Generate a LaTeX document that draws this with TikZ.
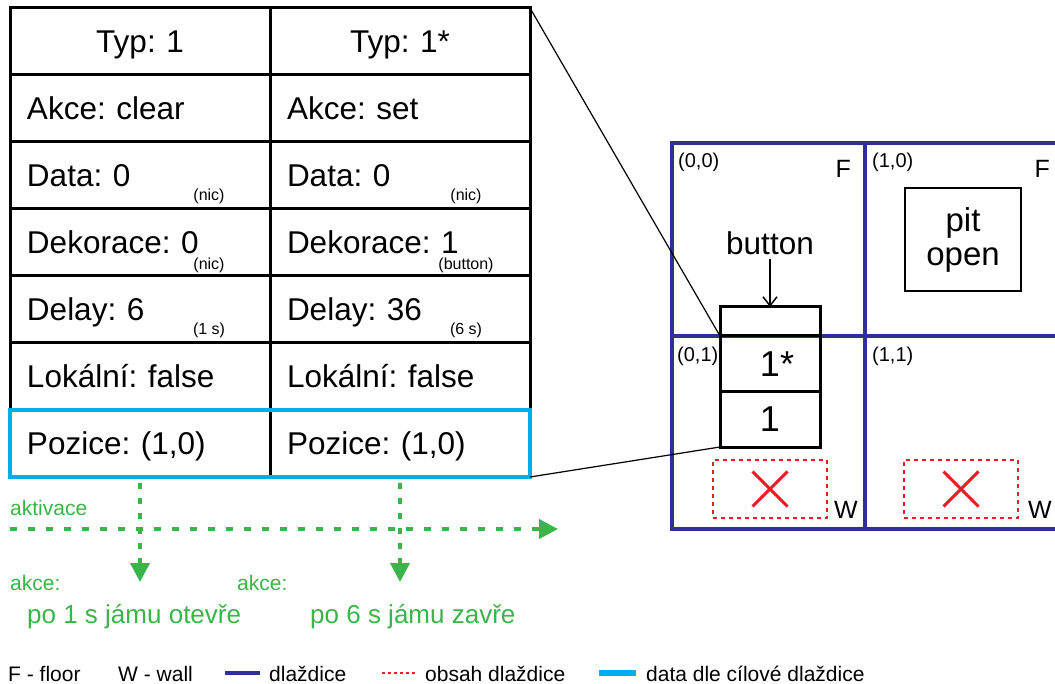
\documentclass[tikz,border=0pt]{standalone}
\usepackage{fontspec}
\setmainfont{Liberation Sans}
\usepackage{tikz}
\usetikzlibrary{positioning}
\usetikzlibrary{arrows.meta}
\usetikzlibrary{shapes.misc}

\definecolor{tilenavy}{RGB}{46,49,146}
\definecolor{datacyan}{RGB}{0,174,239}
\definecolor{contred}{RGB}{237,28,36}
\definecolor{actgreen}{RGB}{57,181,74}
\frenchspacing

\begin{document}
\begin{tikzpicture}[x=1pt,y=-1pt,on grid,node distance=67pt and 260pt,
   cell/.style={draw,line width=3pt,outer sep=0pt,inner sep=0pt,
     minimum width=260pt,minimum height=67pt,text width=226pt,align=left,
     text height=22.5pt,text depth=0pt,font=\fontsize{31.5}{34}\selectfont},
   head/.style={cell,align=center},
   note/.style={anchor=base,inner sep=0pt,font=\fontsize{16}{18}\selectfont},
   tile/.style={draw=tilenavy,line width=4pt,outer sep=0pt,inner sep=0pt,minimum size=193pt},
   tilecoord/.style={inner sep=0pt,font=\fontsize{20}{22}\selectfont},
   kind/.style={inner sep=0pt,font=\fontsize{25}{27}\selectfont},
   slot/.style={draw,line width=3pt,outer sep=0pt,inner sep=0pt,minimum width=100pt,
     font=\fontsize{36}{38}\selectfont},
   content/.style={draw=contred,line width=1.5pt,dash pattern=on 4pt off 4pt,
     minimum width=114pt,minimum height=58pt},
   nope/.style={cross out,draw=contred,line width=3pt,minimum size=32pt,inner sep=0pt},
   act/.style={draw=actgreen,line width=4pt,-{Triangle[width=19pt,length=19pt]}},
   acttext/.style={text=actgreen,inner sep=0pt,anchor=base west},
   legtext/.style={inner sep=0pt,anchor=base west,font=\fontsize{21}{23}\selectfont}]
   \useasboundingbox (0,0) rectangle (1055,684);

   % trigger table
   \node[head] (typ_1) at (140,41.5) {Typ: 1};
   \node[head] (typ_2) [right=of typ_1] {Typ: 1*};
   \node[cell] (akce_1) [below=of typ_1] {Akce: clear};
   \node[cell] (akce_2) [right=of akce_1] {Akce: set};
   \node[cell] (data_1) [below=of akce_1] {Data: 0};
   \node[cell] (data_2) [right=of data_1] {Data: 0};
   \node[cell] (dek_1) [below=of data_1] {Dekorace: 0};
   \node[cell] (dek_2) [right=of dek_1] {Dekorace: 1};
   \node[cell] (delay_1) [below=of dek_1] {Delay: 6};
   \node[cell] (delay_2) [right=of delay_1] {Delay: 36};
   \node[cell] (lok_1) [below=of delay_1] {Lokální: false};
   \node[cell] (lok_2) [right=of lok_1] {Lokální: false};
   \node[cell] (poz_1) [below=of lok_1] {Pozice: (1,0)};
   \node[cell] (poz_2) [right=of poz_1] {Pozice: (1,0)};
   \draw[datacyan,line width=4.5pt] (poz_1.north west) rectangle (poz_2.south east);

   \node[note] at ([xshift=69pt,yshift=8pt]data_1.south) {(nic)};
   \node[note] at ([xshift=66pt,yshift=8pt]data_2.south) {(nic)};
   \node[note] at ([xshift=69pt,yshift=6pt]dek_1.south) {(nic)};
   \node[note] at ([xshift=66pt,yshift=6pt]dek_2.south) {(button)};
   \node[note] at ([xshift=69pt,yshift=8pt]delay_1.south) {(1 s)};
   \node[note] at ([xshift=66pt,yshift=8pt]delay_2.south) {(6 s)};

   % tiles
   \node[tile] (tile_00) at (768.5,239.5) {};
   \node[tile] (tile_10) [right=193pt of tile_00] {};
   \node[tile] (tile_01) [below=193pt of tile_00] {};
   \node[tile] (tile_11) [right=193pt of tile_01] {};
   \node[tilecoord,anchor=north west] at ([xshift=6pt,yshift=-10pt]tile_00.north west) {(0,0)};
   \node[tilecoord,anchor=north west] at ([xshift=7pt,yshift=-10pt]tile_10.north west) {(1,0)};
   \node[tilecoord,anchor=north west] at ([xshift=5pt,yshift=-11pt]tile_01.north west) {(0,1)};
   \node[tilecoord,anchor=north west] at ([xshift=7pt,yshift=-11pt]tile_11.north west) {(1,1)};
   \node[kind,anchor=north east] at ([xshift=-14pt,yshift=-17pt]tile_00.north east) {F};
   \node[kind,anchor=north east] at ([xshift=-8pt,yshift=-17pt]tile_10.north east) {F};
   \node[kind,anchor=base east] at ([xshift=-7pt,yshift=11pt]tile_01.south east) {W};
   \node[kind,anchor=base east] at ([xshift=-6pt,yshift=11pt]tile_11.south east) {W};

   \node[draw,line width=1.5pt,minimum width=116pt,minimum height=103pt,align=center,
     font=\fontsize{33}{34}\selectfont] (pit) at (963,239.5) {pit\\open};

   % trigger stack on tile (0,1)
   \node[slot,minimum height=56pt] (slot_star) at (770,364) {1\rlap{*}};
   \node[slot,minimum height=29pt] (slot_top) [above=42.5pt of slot_star] {};
   \node[slot,minimum height=55pt] (slot_one) [below=55.5pt of slot_star] {1};
   \node[inner sep=0pt,anchor=base,font=\fontsize{31.5}{34}\selectfont] (btn) at (770,255) {button};
   \draw[line width=1.5pt,-{Straight Barb[length=9pt,width=14pt]},shorten <=3pt] (btn.south) -- (slot_top.north);

   \node[content] (obsah_01) at (770,489) {};
   \node[content] (obsah_11) at (961,489) {};
   \node[nope] at (obsah_01.center) {};
   \node[nope] at (obsah_11.center) {};

   \draw[line width=1.2pt] (typ_2.north east) -- (slot_star.north west);
   \draw[line width=1.2pt] (poz_2.south east) -- (slot_one.south west);

   % activation
   \coordinate (act_start) at (10,529);
   \coordinate (act_end) at (558,529);
   \coordinate (fire_1) at (140,582);
   \coordinate (fire_2) at (400,582);
   \draw[act,dash pattern=on 7pt off 11pt] (act_start) -- (act_end);
   \draw[act,dash pattern=on 6pt off 9pt] ([yshift=-6pt]poz_1.south) -- (fire_1);
   \draw[act,dash pattern=on 6pt off 9pt] ([yshift=-6pt]poz_2.south) -- (fire_2);
   \node[acttext,font=\fontsize{21}{23}\selectfont] (aktivace) at (10,515) {aktivace};
   \node[acttext,font=\fontsize{21}{23}\selectfont] (kdy_1) at (10,590) {akce:};
   \node[acttext,font=\fontsize{21}{23}\selectfont] (kdy_2) at (237,590) {akce:};
   \node[acttext,font=\fontsize{26}{28}\selectfont] (co_1) at (27,623) {po 1 s jámu otevře};
   \node[acttext,font=\fontsize{26}{28}\selectfont] (co_2) at (310,623) {po 6 s jámu zavře};

   % legend
   \node[legtext] (leg_floor) at (8,681) {F - floor};
   \node[legtext] (leg_wall) at (118,681) {W - wall};
   \node[legtext] (leg_tile) at (269,681) {dlaždice};
   \node[legtext] (leg_obsah) at (425,681) {obsah dlaždice};
   \node[legtext] (leg_data) at (646,681) {data dle cílové dlaždice};
   \draw[tilenavy,line width=4pt] ([xshift=-44pt]leg_tile.west) -- ([xshift=-9pt]leg_tile.west);
   \draw[contred,line width=2pt,dash pattern=on 3pt off 3pt] ([xshift=-43pt]leg_obsah.west) -- ([xshift=-8pt]leg_obsah.west);
   \draw[datacyan,line width=6pt] ([xshift=-47pt]leg_data.west) -- ([xshift=-10pt]leg_data.west);
\end{tikzpicture}
\end{document}
